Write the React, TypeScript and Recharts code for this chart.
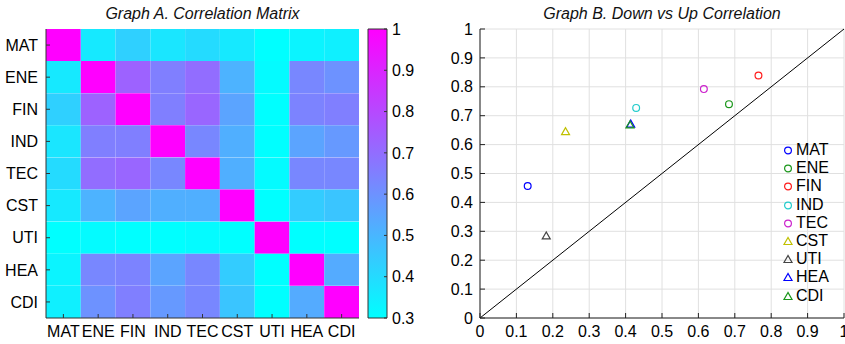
import React from 'react';
import {
  BarChart, Bar, Cell, XAxis, YAxis, ScatterChart, Scatter, CartesianGrid, ReferenceLine, Legend,
} from 'recharts';

const sectors = ['MAT', 'ENE', 'FIN', 'IND', 'TEC', 'CST', 'UTI', 'HEA', 'CDI'];

// correlation matrix, one row per sector (top to bottom)
const rowMAT = [1.0, 0.36, 0.43, 0.37, 0.4, 0.36, 0.3, 0.33, 0.34];
const rowENE = [0.36, 1.0, 0.73, 0.65, 0.7, 0.51, 0.31, 0.63, 0.6];
const rowFIN = [0.43, 0.73, 1.0, 0.65, 0.72, 0.55, 0.3, 0.64, 0.65];
const rowIND = [0.37, 0.65, 0.65, 1.0, 0.63, 0.52, 0.3, 0.55, 0.58];
const rowTEC = [0.4, 0.7, 0.72, 0.63, 1.0, 0.52, 0.31, 0.63, 0.63];
const rowCST = [0.36, 0.51, 0.55, 0.52, 0.52, 1.0, 0.3, 0.44, 0.46];
const rowUTI = [0.3, 0.31, 0.3, 0.3, 0.31, 0.3, 1.0, 0.3, 0.3];
const rowHEA = [0.33, 0.63, 0.64, 0.55, 0.63, 0.44, 0.3, 1.0, 0.53];
const rowCDI = [0.34, 0.6, 0.65, 0.58, 0.63, 0.46, 0.3, 0.53, 1.0];
const matrix = [rowMAT, rowENE, rowFIN, rowIND, rowTEC, rowCST, rowUTI, rowHEA, rowCDI];

const colorTicks = [0.3, 0.4, 0.5, 0.6, 0.7, 0.8, 0.9, 1];
const cellTicks = [0.5, 1.5, 2.5, 3.5, 4.5, 5.5, 6.5, 7.5, 8.5];

// down vs up correlation per sector
const downCorr = [0.131, 0.684, 0.765, 0.429, 0.615, 0.235, 0.182, 0.414, 0.412];
const upCorr = [0.457, 0.74, 0.839, 0.727, 0.792, 0.645, 0.284, 0.671, 0.668];
const markerKind = ['o', 'o', 'o', 'o', 'o', '^', '^', '^', '^'];
const markerColor = ['#0000ff', '#1a961a', '#ff1a1a', '#22cccc', '#cc22cc', '#c0c000', '#444444', '#0000ff', '#1a961a'];
const unitTicks = [0, 0.1, 0.2, 0.3, 0.4, 0.5, 0.6, 0.7, 0.8, 0.9, 1];

const FONT = '"Liberation Sans", Arial, Helvetica, sans-serif';
const tickStyle = { fontSize: 16, fill: '#000', fontFamily: FONT };

// matlab "cool" colormap over 0.3..1
const cool = (v: number) => {
  const t = Math.max(0, Math.min(1, (v - 0.3) / 0.7));
  return `rgb(${Math.round(255 * t)},${Math.round(255 * (1 - t))},255)`;
};

const heatData = sectors.map((name) => {
  const row: Record<string, number | string> = { name };
  sectors.forEach((s) => { row[s] = 1; });
  return row;
});

const Marker = ({ cx, cy, kind, color }: any) => {
  if (cx == null || cy == null) return null;
  if (kind === 'o') {
    return <circle cx={cx} cy={cy} r={3.4} fill="none" stroke={color} strokeWidth={1.2} />;
  }
  return (
    <polygon
      points={`${cx},${cy - 4} ${cx - 4},${cy + 3} ${cx + 4},${cy + 3}`}
      fill="none"
      stroke={color}
      strokeWidth={1.2}
    />
  );
};

const LegendBox = () => (
  <div style={{ fontFamily: FONT, fontSize: 16, color: '#000' }}>
    {sectors.map((s, i) => (
      <div key={s} style={{ display: 'flex', alignItems: 'center', height: 18.2 }}>
        <svg width={12} height={12} style={{ marginRight: 2 }}>
          <Marker cx={6} cy={6.5} kind={markerKind[i]} color={markerColor[i]} />
        </svg>
        <span>{s}</span>
      </div>
    ))}
  </div>
);

const titleStyle: React.CSSProperties = {
  position: 'absolute', top: 4, height: 20, lineHeight: '20px', fontFamily: FONT,
  fontSize: 16, fontStyle: 'italic', color: '#111', textAlign: 'center', whiteSpace: 'nowrap',
};

export default function App() {
  return (
    <div style={{ position: 'absolute', left: 0, top: 0, width: 845, height: 344, background: '#fff', overflow: 'hidden' }}>
      <div style={{ ...titleStyle, left: 46, width: 313 }}>Graph A. Correlation Matrix</div>
      <div style={{ ...titleStyle, left: 480, width: 364 }}>Graph B. Down vs Up Correlation</div>

      {/* heatmap */}
      <div style={{ position: 'absolute', left: 0, top: 0 }}>
        <BarChart
          width={370}
          height={344}
          data={heatData}
          layout="vertical"
          barCategoryGap={0}
          margin={{ top: 29, right: 11, bottom: 0, left: 6 }}
        >
          <XAxis
            type="number"
            domain={[0, 9]}
            ticks={cellTicks}
            interval={0}
            tickFormatter={(v) => sectors[Math.floor(v)]}
            tickSize={-4}
            tickMargin={12}
            height={26}
            stroke="#333"
            tick={tickStyle}
          />
          <XAxis
            xAxisId="top"
            orientation="top"
            type="number"
            domain={[0, 9]}
            ticks={cellTicks}
            interval={0}
            tickFormatter={() => ''}
            tickSize={-4}
            height={0}
            stroke="#555"
          />
          <YAxis
            type="category"
            dataKey="name"
            width={40}
            tickSize={-4}
            tickMargin={12}
            stroke="#333"
            tick={tickStyle}
            interval={0}
          />
          <YAxis
            yAxisId="right"
            orientation="right"
            type="number"
            domain={[0, 9]}
            ticks={cellTicks}
            interval={0}
            tickFormatter={() => ''}
            tickSize={-4}
            width={0}
            stroke="#555"
          />
          {sectors.map((col, j) => (
            <Bar key={col} dataKey={col} stackId="m" isAnimationActive={false}>
              {matrix.map((row, i) => (
                <Cell key={i} fill={cool(row[j])} />
              ))}
            </Bar>
          ))}
        </BarChart>
      </div>

      {/* colorbar */}
      <div style={{ position: 'absolute', left: 360, top: 0 }}>
        <BarChart
          width={80}
          height={344}
          data={[{ name: 'cb', range: [0.3, 1] }]}
          barCategoryGap={0}
          margin={{ top: 29, right: 0, bottom: 26, left: 8 }}
        >
          <defs>
            <linearGradient id="coolGrad" x1="0" y1="1" x2="0" y2="0">
              <stop offset="0%" stopColor={cool(0.3)} />
              <stop offset="100%" stopColor={cool(1)} />
            </linearGradient>
          </defs>
          <XAxis dataKey="name" hide />
          <YAxis
            orientation="right"
            type="number"
            domain={[0.3, 1]}
            ticks={colorTicks}
            interval={0}
            width={53}
            tickSize={-3}
            tickMargin={8}
            axisLine={false}
            stroke="#333"
            tick={{ ...tickStyle, textAnchor: 'start' }}
          />
          <Bar dataKey="range" fill="url(#coolGrad)" stroke="#333" strokeWidth={1} isAnimationActive={false} />
        </BarChart>
      </div>

      {/* scatter */}
      <div style={{ position: 'absolute', left: 420, top: 0 }}>
        <ScatterChart width={425} height={344} margin={{ top: 29, right: 1, bottom: 0, left: 0 }}>
          <CartesianGrid stroke="#e0e0e0" />
          <XAxis
            type="number"
            dataKey="x"
            domain={[0, 1]}
            ticks={unitTicks}
            interval={0}
            tickSize={-5}
            tickMargin={13}
            height={26}
            stroke="#222"
            tick={tickStyle}
          />
          <XAxis
            xAxisId="top"
            orientation="top"
            type="number"
            domain={[0, 1]}
            ticks={unitTicks}
            interval={0}
            tickFormatter={() => ''}
            tickSize={-5}
            height={0}
            stroke="#555"
          />
          <YAxis
            type="number"
            dataKey="y"
            domain={[0, 1]}
            ticks={unitTicks}
            interval={0}
            width={60}
            tickSize={-5}
            tickMargin={12}
            stroke="#222"
            tick={tickStyle}
          />
          <YAxis
            yAxisId="right"
            orientation="right"
            type="number"
            domain={[0, 1]}
            ticks={unitTicks}
            interval={0}
            tickFormatter={() => ''}
            tickSize={-5}
            width={0}
            stroke="#555"
          />
          <ReferenceLine segment={[{ x: 0, y: 0 }, { x: 1, y: 1 }]} stroke="#000" strokeWidth={1} />
          {sectors.map((s, i) => (
            <Scatter
              key={s}
              name={s}
              data={[{ x: downCorr[i], y: upCorr[i] }]}
              isAnimationActive={false}
              shape={(p: any) => <Marker cx={p.cx} cy={p.cy} kind={markerKind[i]} color={markerColor[i]} />}
            />
          ))}
          <Legend
            layout="vertical"
            align="center"
            verticalAlign="middle"
            content={() => <LegendBox />}
            wrapperStyle={{ left: 362, top: 141, width: 62 }}
          />
        </ScatterChart>
      </div>
    </div>
  );
}
